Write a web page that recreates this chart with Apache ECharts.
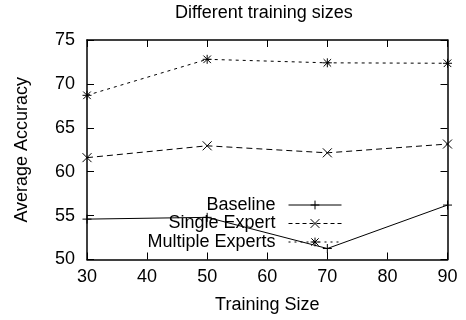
<!DOCTYPE html>
<html>
<head>
<meta charset="utf-8">
<script src="https://cdn.jsdelivr.net/npm/echarts@6/dist/echarts.min.js"></script>
<style>
html,body{margin:0;padding:0;background:#fff;}
#chart{width:466px;height:320px;}
</style>
</head>
<body>
<div id="chart"></div>
<script>
// ---- data ----
const trainingSizes = [30, 50, 70, 90];
const baseline = [54.6, 54.8, 51.25, 56.2];
const singleExpert = [61.6, 62.95, 62.15, 63.15];
const multipleExperts = [68.7, 72.8, 72.4, 72.35];
const seriesNames = ['Baseline', 'Single Expert', 'Multiple Experts'];
const xTicks = { min: 30, max: 90, step: 10 };
const yTicks = { min: 50, max: 75, step: 5 };

const FONT = 'Liberation Sans';
const plusPath = 'path://M5,0L5,10M0,5L10,5';
const crossPath = 'path://M0,0L10,10M10,0L0,10';
const starPath = 'path://M5,0L5,10M0,5L10,5M0.8,0.8L9.2,9.2M9.2,0.8L0.8,9.2';

function pairs(ys) { return trainingSizes.map((x, i) => [x, ys[i]]); }

function mkSeries(name, ys, symbol, dash) {
  return {
    name: name, type: 'line', data: pairs(ys),
    xAxisIndex: 0, yAxisIndex: 0,
    symbol: symbol, symbolSize: 9,
    itemStyle: { color: '#000', borderColor: '#000', borderWidth: 1 },
    lineStyle: { color: '#000', width: 1, type: dash },
    emphasis: { disabled: true },
    z: 3
  };
}

function mkLegend(name, top, dash) {
  return {
    data: [name], orient: 'horizontal', align: 'right',
    right: 124, top: top, padding: 0,
    itemWidth: 53, itemHeight: 11,
    selectedMode: false,
    lineStyle: { width: 1, color: '#000', type: dash },
    itemStyle: { color: '#000', borderColor: '#000', borderWidth: 1 },
    textStyle: { fontFamily: FONT, fontSize: 18, color: '#000', padding: [0, 8, 0, 0] }
  };
}

const axisCommon = {
  type: 'value', splitLine: { show: false },
  axisLine: { show: true, lineStyle: { color: '#000', width: 1.5 } },
  axisTick: { show: true, inside: true, length: 7, lineStyle: { color: '#000', width: 1 } }
};

const chart = echarts.init(document.getElementById('chart'), null, { renderer: 'canvas' });
chart.setOption({
  animation: false,
  backgroundColor: '#fff',
  title: {
    text: 'Different training sizes', left: 175, top: 4, padding: 0,
    textStyle: { fontFamily: FONT, fontSize: 18, fontWeight: 'normal', color: '#000' }
  },
  legend: [
    mkLegend(seriesNames[0], 196, 'solid'),
    mkLegend(seriesNames[1], 214.5, [4, 3]),
    mkLegend(seriesNames[2], 233, [2, 4])
  ],
  grid: { left: 87, right: 18.5, top: 40, bottom: 60.5 },
  xAxis: [
    Object.assign({}, axisCommon, {
      position: 'bottom', min: xTicks.min, max: xTicks.max, interval: xTicks.step,
      name: 'Training Size', nameLocation: 'middle', nameGap: 37,
      nameTextStyle: { fontFamily: FONT, fontSize: 18, color: '#000' },
      axisLabel: { fontFamily: FONT, fontSize: 18, color: '#000', margin: 9 }
    }),
    Object.assign({}, axisCommon, {
      position: 'top', min: xTicks.min, max: xTicks.max, interval: xTicks.step,
      axisLabel: { show: false }
    })
  ],
  yAxis: [
    Object.assign({}, axisCommon, {
      position: 'left', min: yTicks.min, max: yTicks.max, interval: yTicks.step,
      name: 'Average Accuracy', nameLocation: 'middle', nameGap: 56,
      nameTextStyle: { fontFamily: FONT, fontSize: 18, color: '#000' },
      axisLabel: { fontFamily: FONT, fontSize: 18, color: '#000', margin: 12 }
    }),
    Object.assign({}, axisCommon, {
      position: 'right', min: yTicks.min, max: yTicks.max, interval: yTicks.step,
      axisLabel: { show: false }
    })
  ],
  series: [
    mkSeries(seriesNames[0], baseline, plusPath, 'solid'),
    mkSeries(seriesNames[1], singleExpert, crossPath, [6, 4]),
    mkSeries(seriesNames[2], multipleExperts, starPath, [3, 4])
  ]
});
</script>
</body>
</html>
